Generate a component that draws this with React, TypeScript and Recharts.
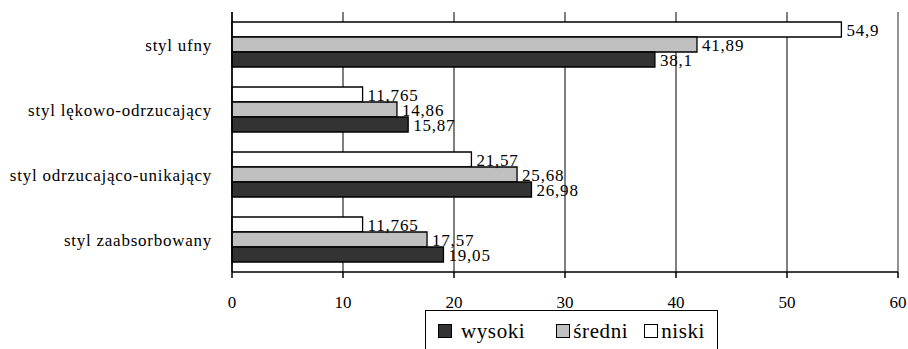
import { BarChart, Bar, XAxis, YAxis, CartesianGrid, ReferenceLine, LabelList } from 'recharts';

const categories = [
  'styl ufny',
  'styl lękowo-odrzucający',
  'styl odrzucająco-unikający',
  'styl zaabsorbowany',
];
const niski = [54.9, 11.765, 21.57, 11.765];
const sredni = [41.89, 14.86, 25.68, 17.57];
const wysoki = [38.1, 15.87, 26.98, 19.05];
const xTicks = [0, 10, 20, 30, 40, 50, 60];
const bandEdges = [0, 1, 2, 3, 4];

const legendItems = [
  { name: 'wysoki', color: '#333333' },
  { name: 'średni', color: '#c0c0c0' },
  { name: 'niski', color: '#ffffff' },
];

const data = categories.map((name, i) => ({
  name,
  niski: niski[i],
  sredni: sredni[i],
  wysoki: wysoki[i],
}));

const FONT = 'Liberation Serif';

const fmt = (v: any) => String(v).replace('.', ',');

const labelStyle = { fill: '#000', fontSize: 17, letterSpacing: 0.8, fontFamily: FONT };

// spacing after each legend item / between swatch and text
const itemGap = [31, 16, 0];
const swatchGap = [9, 3, 3];

export default function App() {
  return (
    <div
      style={{
        position: 'absolute',
        left: 0,
        top: 0,
        width: 908,
        height: 349,
        overflow: 'hidden',
        background: '#fff',
        fontFamily: FONT,
      }}
    >
      <BarChart
        width={908}
        height={349}
        data={data}
        layout="vertical"
        margin={{ top: 12, right: 10, bottom: 0, left: 0 }}
        barSize={15}
        barGap={0}
      >
        <CartesianGrid horizontal={false} stroke="#000" yAxisId="cat" />
        <XAxis
          type="number"
          domain={[0, 60]}
          ticks={xTicks}
          interval={0}
          height={77}
          axisLine={{ stroke: '#000', strokeWidth: 1.5 }}
          tickLine={{ stroke: '#000', strokeWidth: 1.5 }}
          tickSize={6}
          tickMargin={18}
          tick={{ fill: '#000', fontSize: 17, fontFamily: FONT }}
        />
        <YAxis
          yAxisId="edges"
          type="number"
          domain={[0, 4]}
          ticks={bandEdges}
          interval={0}
          allowDataOverflow
          width={0}
          axisLine={false}
          tick={false}
          tickLine={{ stroke: '#000', strokeWidth: 1.5 }}
          tickSize={6}
        />
        <YAxis
          yAxisId="cat"
          type="category"
          dataKey="name"
          width={232}
          axisLine={{ stroke: '#000', strokeWidth: 1.5 }}
          tickLine={false}
          tickSize={0}
          tickMargin={20}
          interval={0}
          tick={{ fill: '#000', fontSize: 17, letterSpacing: 0.75, fontFamily: FONT }}
        />
        <ReferenceLine yAxisId="cat" x={60} stroke="#999" strokeWidth={1.5} />
        <ReferenceLine yAxisId="edges" y={4} stroke="#999" strokeWidth={1.5} />
        <Bar yAxisId="cat" dataKey="niski" fill="#ffffff" stroke="#000" strokeWidth={1.3} isAnimationActive={false}>
          <LabelList dataKey="niski" position="right" offset={5} formatter={fmt} style={labelStyle} />
        </Bar>
        <Bar yAxisId="cat" dataKey="sredni" fill="#c0c0c0" stroke="#000" strokeWidth={1.3} isAnimationActive={false}>
          <LabelList dataKey="sredni" position="right" offset={5} formatter={fmt} style={labelStyle} />
        </Bar>
        <Bar yAxisId="cat" dataKey="wysoki" fill="#333333" stroke="#000" strokeWidth={1.3} isAnimationActive={false}>
          <LabelList dataKey="wysoki" position="right" offset={5} formatter={fmt} style={labelStyle} />
        </Bar>
      </BarChart>
      <div
        style={{
          position: 'absolute',
          left: 425,
          top: 310,
          width: 293,
          height: 60,
          border: '1.5px solid #000',
          display: 'flex',
          alignItems: 'flex-start',
          paddingLeft: 12,
          paddingTop: 8,
          boxSizing: 'border-box',
          fontSize: 21,
          letterSpacing: 0.6,
          color: '#000',
        }}
      >
        {legendItems.map((it, i) => (
          <div key={it.name} style={{ display: 'flex', alignItems: 'center', marginRight: itemGap[i] }}>
            <span
              style={{
                display: 'inline-block',
                width: 12,
                height: 12,
                background: it.color,
                border: '1.3px solid #000',
                marginRight: swatchGap[i],
              }}
            />
            <span style={{ lineHeight: '24px' }}>{it.name}</span>
          </div>
        ))}
      </div>
    </div>
  );
}
